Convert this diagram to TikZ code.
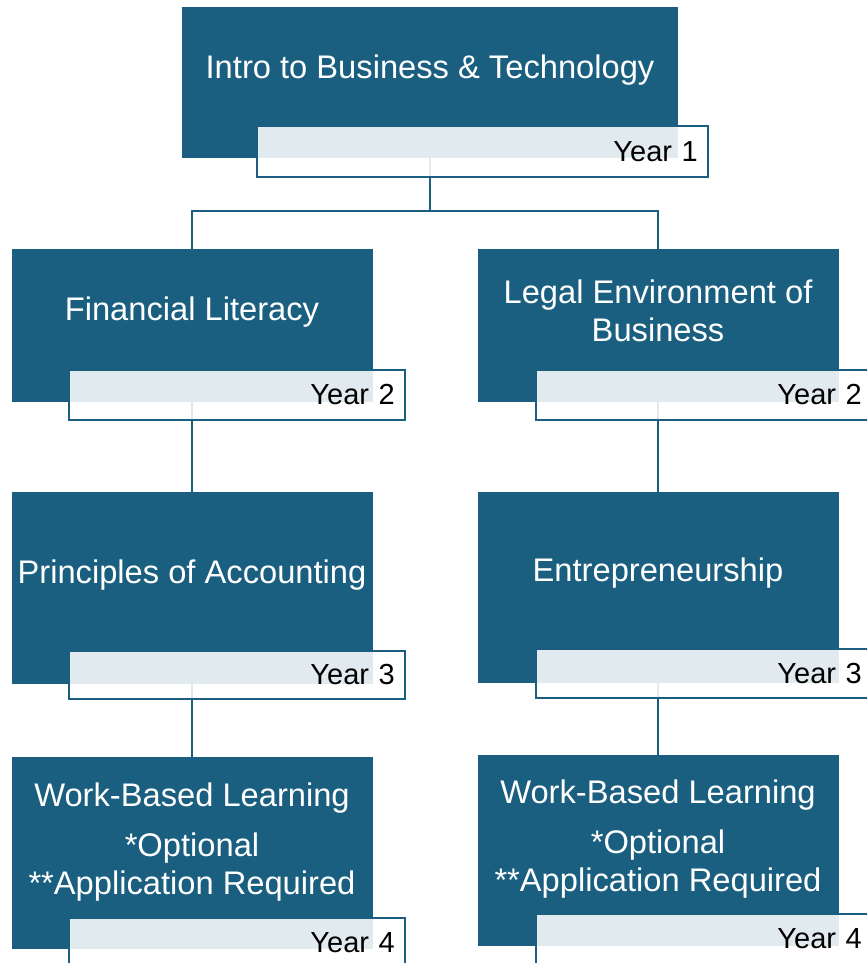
\documentclass[tikz,border=0pt]{standalone}
\usepackage{fontspec}
\setmainfont{Liberation Sans}
\definecolor{courseblue}{HTML}{1A5F80}
\tikzset{
  course/.style={fill=courseblue, draw=courseblue, anchor=north west, minimum width=7.2cm, inner sep=0pt},
  coursetext/.style={text=white, font=\fontsize{18.6}{21.8}\selectfont, align=center, inner sep=0pt},
  yearbox/.style={draw=courseblue, line width=1pt, fill=white, fill opacity=0.87, text opacity=1,
    anchor=north west, minimum height=1cm, inner xsep=0.2cm, inner ysep=0pt, text width=6.32cm,
    align=right, font=\fontsize{16.5}{19}\selectfont},
  link/.style={draw=courseblue, line width=1pt}
}
\begin{document}
\begin{tikzpicture}[x=0.02cm, y=-0.02cm]
  \useasboundingbox (0,0) rectangle (867,963);
  \clip (0,0) rectangle (867,963);

  % course boxes
  \node[course, minimum width=9.9cm, minimum height=3cm] (intro) at (182,7) {};
  \node[course, minimum height=3.04cm] (finance) at (12,249) {};
  \node[course, minimum height=3.04cm] (legal) at (478,249) {};
  \node[course, minimum height=3.82cm] (account) at (12,492) {};
  \node[course, minimum height=3.8cm] (entre) at (478,492) {};
  \node[course, minimum height=3.82cm] (wbla) at (12,757) {};
  \node[course, minimum height=3.8cm] (wblb) at (478,755) {};

  % connectors
  \draw[link] (intro.south) -- ++(0,53) coordinate (split) -| (finance.north);
  \draw[link] (split) -| (legal.north);
  \draw[link] (finance.south) -- (account.north);
  \draw[link] (account.south) -- (wbla.north);
  \draw[link] (legal.south) -- (entre.north);
  \draw[link] (entre.south) -- (wblb.north);

  % titles
  \node[coursetext] (introtxt) at (430,70) {Intro to Business \& Technology};
  \node[coursetext] (financetxt) at (192,312) {Financial Literacy};
  \node[coursetext] (legaltxt) at (658,311) {Legal Environment of\\Business};
  \node[coursetext] (accounttxt) at (192,575) {Principles of Accounting};
  \node[coursetext] (entretxt) at (658,573) {Entrepreneurship};
  \node[coursetext] (wblatxt) at (192,842) {Work-Based Learning\\[7pt]*Optional\\**Application Required};
  \node[coursetext] (wblbtxt) at (658,839) {Work-Based Learning\\[7pt]*Optional\\**Application Required};

  % year labels
  \node[yearbox, text width=8.62cm, minimum height=1.02cm] (yeara) at (256,125) {Year 1};
  \node[yearbox] (yearfin) at (68,369) {Year 2};
  \node[yearbox] (yearlegal) at (535,369) {Year 2};
  \node[yearbox, minimum height=0.96cm] (yearacc) at (68,650) {Year 3};
  \node[yearbox, minimum height=0.98cm] (yearentre) at (535,648) {Year 3};
  \node[yearbox] (yearwbla) at (68,917) {Year 4};
  \node[yearbox] (yearwblb) at (535,913) {Year 4};
\end{tikzpicture}
\end{document}
